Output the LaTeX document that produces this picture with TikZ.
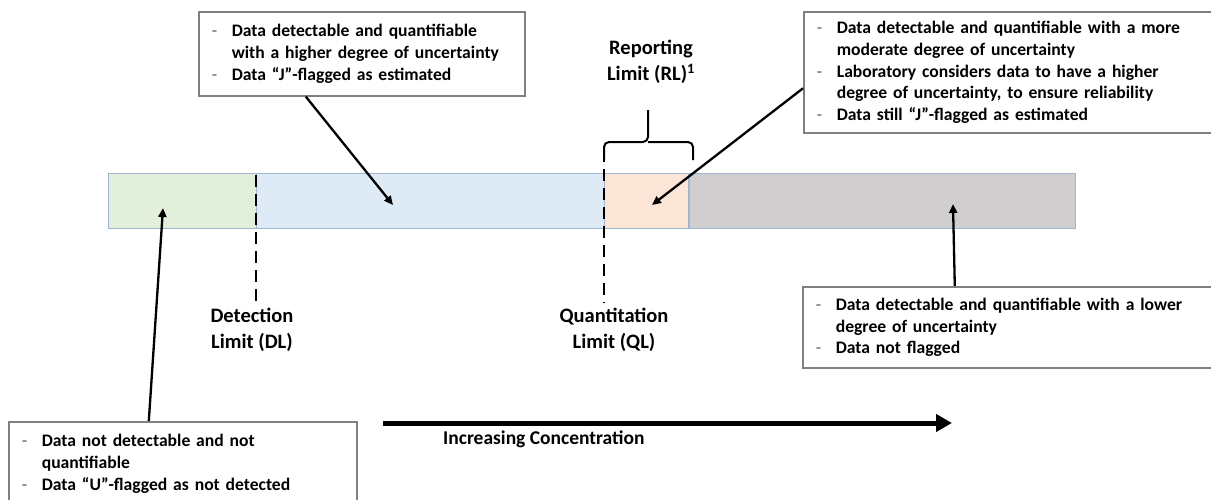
\documentclass[tikz,border=0pt]{standalone}
\usepackage{fontspec}
\setmainfont{Carlito}
\usetikzlibrary{arrows.meta,calc}
\definecolor{cgreen}{RGB}{226,239,218}
\definecolor{cblue}{RGB}{222,235,247}
\definecolor{corange}{RGB}{251,229,214}
\definecolor{cgray}{RGB}{208,206,206}
\definecolor{cbarline}{RGB}{160,182,210}
\definecolor{cbox}{RGB}{128,128,128}
\definecolor{cdash}{RGB}{90,90,90}
\tikzset{
  x=1pt,y=-1pt,
  seg/.style={draw=cbarline,line width=1.2pt,anchor=north west,inner sep=0pt},
  infobox/.style={draw=cbox,line width=1.6pt,fill=white,anchor=north west,inner xsep=13pt,inner ysep=0pt,align=left,
    font=\fontsize{17.6}{21.6}\selectfont\bfseries},
  lbl/.style={align=center,font=\fontsize{20.5}{26}\selectfont\bfseries,inner sep=0pt},
  ptr/.style={line width=2.3pt,-{Triangle[length=9pt,width=8pt]}},
  limit/.style={line width=2.4pt,dash pattern=on 12pt off 7pt},
}
\newcommand{\bl}{\makebox[20pt][l]{\mdseries\color{cdash}-}}
\newcommand{\nb}{\makebox[20pt][l]{}}
\begin{document}
\begin{tikzpicture}
\useasboundingbox (0,0) rectangle (1211,499);
% bar
\node[seg,fill=cgreen,minimum width=148pt,minimum height=55pt] (g) at (108,173) {};
\node[seg,fill=cblue,minimum width=348pt,minimum height=55pt] (bl) at (256,173) {};
\node[seg,fill=corange,minimum width=84pt,minimum height=55pt] (o) at (604,173) {};
\node[seg,fill=cgray,minimum width=386pt,minimum height=55pt] (gr) at (689,173) {};
% limits
\coordinate (dlt) at (256,175);
\coordinate (dlb) at (256,303);
\coordinate (qlt) at (604,150);
\coordinate (qlb) at (604,303);
\draw[limit] (dlt) -- (dlb);
\draw[limit] (qlt) -- (qlb);
\node[lbl,anchor=north] (dl) at (252,308) {Detection\\Limit (DL)};
\node[lbl,anchor=north] (ql) at (614,308) {Quantitation\\Limit (QL)};
% brace
\coordinate (brl) at (604,160);
\coordinate (brr) at (693,160);
\coordinate (brt) at (648,110);
\draw[line width=2pt,rounded corners=5pt] (brl) -- (604,142) -- (648,142) -- (brt);
\draw[line width=2pt,rounded corners=5pt] (brr) -- (693,142) -- (648,142);
\node[lbl,anchor=north] (rl) at (651,40) {Reporting\\Limit (RL)\textsuperscript{1}};
% boxes
\node[infobox,text width=300pt,minimum height=84pt] (b1) at (198,11) {%
\bl Data detectable and quantifiable\\
\nb with a higher degree of uncertainty\\
\bl Data ``J''-flagged as estimated};
\node[infobox,text width=383pt,minimum height=121pt] (b2) at (803,11) {%
\bl Data detectable and quantifiable with a more\\
\nb moderate degree of uncertainty\\
\bl Laboratory considers data to have a higher\\
\nb degree of uncertainty, to ensure reliability\\
\bl Data still ``J''-flagged as estimated};
\node[infobox,text width=384pt,minimum height=81pt] (b3) at (802,286) {%
\bl Data detectable and quantifiable with a lower\\
\nb degree of uncertainty\\
\bl Data not flagged};
\node[infobox,text width=322pt,minimum height=84pt] (b4) at (8,421) {%
\bl Data not detectable and not\\
\nb quantifiable\\
\bl Data ``U''-flagged as not detected\\[2pt]};
% pointers
\coordinate (t1) at (393,205);
\coordinate (t2) at (652,205);
\coordinate (t3) at (953,204);
\coordinate (t4) at (163,208);
\draw[ptr] ([xshift=-56pt]b1.south) -- (t1);
\draw[ptr] ([yshift=-16pt]b2.west) -- (t2);
\draw[ptr] ([xshift=-53pt]b3.north) -- (t3);
\draw[ptr] ([xshift=-34pt]b4.north) -- (t4);
% concentration arrow
\coordinate (cs) at (383,423);
\coordinate (ce) at (952,423);
\draw[line width=5pt,-{Triangle[length=16pt,width=17pt]}] (cs) -- (ce);
\node[lbl,anchor=west,font=\fontsize{19.5}{22}\selectfont\bfseries] (cl) at (443,439) {Increasing Concentration};
\end{tikzpicture}
\end{document}
